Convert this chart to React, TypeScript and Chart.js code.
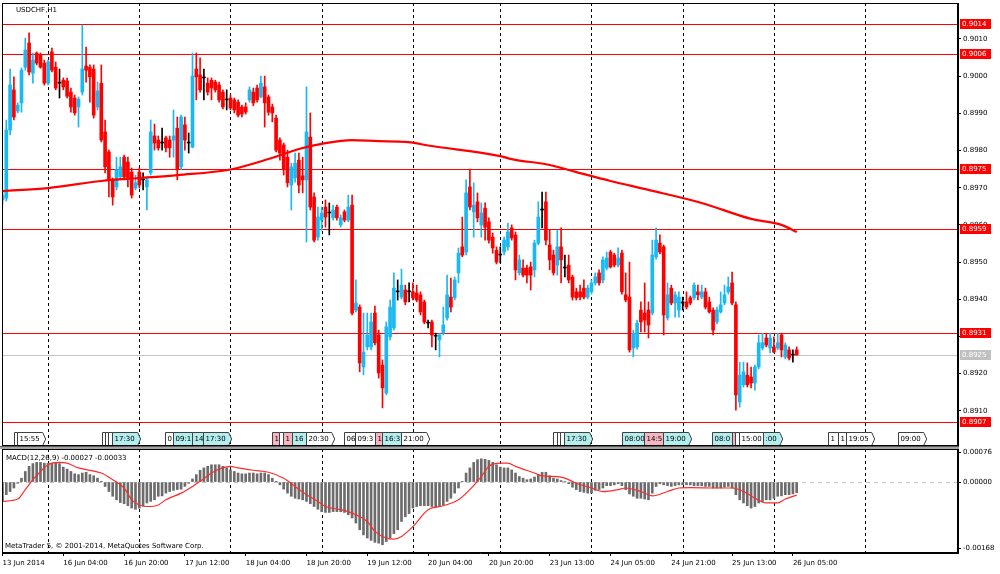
import { useEffect, useRef } from "react";
import { Chart, registerables } from "chart.js";

Chart.register(...registerables);

/* USDCHF H1 — candles, MA, níveis horizontais, eventos e MACD(12,26,9).
   Valores lidos do screenshot original (estimados onde não dava para ler). */

const opens = [
  0.89667, 0.89672, 0.89855, 0.89963, 0.89906, 0.89928, 0.90024, 0.90089, 0.90008, 0.90062,
  0.90057, 0.90035, 0.89981, 0.90065, 0.90024, 0.89981, 0.89989, 0.89987, 0.89957, 0.89941,
  0.89917, 0.89957, 0.90027, 0.90024, 0.90019, 0.89917, 0.89981, 0.8985, 0.89796, 0.89721,
  0.89702, 0.89729, 0.89782, 0.89769, 0.89742, 0.89699, 0.89742, 0.89721, 0.89702, 0.8974,
  0.89839, 0.89828, 0.8982, 0.89834, 0.89828, 0.89828, 0.8986, 0.89756, 0.89869, 0.8982,
  0.89809, 0.90019, 0.90003, 0.89995, 0.89981, 0.89989, 0.89984, 0.89976, 0.89957, 0.89936,
  0.89941, 0.89936, 0.8993, 0.89917, 0.89917, 0.89936, 0.89957, 0.89968, 0.89944, 0.89971,
  0.89944, 0.89917, 0.89887, 0.89828, 0.89815, 0.89782, 0.89707, 0.89726, 0.89774, 0.89732,
  0.89721, 0.89836, 0.89675, 0.89567, 0.89613, 0.89648, 0.89632, 0.89619, 0.89648, 0.896,
  0.89635, 0.89613, 0.89653, 0.89371, 0.89379, 0.89218, 0.89272, 0.89272, 0.89363, 0.89304,
  0.89223, 0.89148, 0.89299, 0.89323, 0.8942, 0.89406, 0.89425, 0.8942, 0.8942, 0.89417,
  0.89412, 0.89393, 0.89336, 0.89339, 0.89301, 0.89291, 0.89309, 0.8935, 0.89406, 0.89404,
  0.89471, 0.89541, 0.89527, 0.89702, 0.89635, 0.89662, 0.896, 0.89645, 0.89608, 0.89567,
  0.89532, 0.89519, 0.89527, 0.89541, 0.89592, 0.89573, 0.89471, 0.89484, 0.89484, 0.89487,
  0.89479, 0.89551, 0.8964, 0.89662, 0.89546, 0.89519, 0.89492, 0.89541, 0.89484, 0.89492,
  0.8946, 0.8942, 0.8942, 0.8943, 0.89406, 0.8942, 0.89444, 0.89471, 0.89452, 0.89484,
  0.89527, 0.89519, 0.89492, 0.89524, 0.89412, 0.89406, 0.89269, 0.89272, 0.89371, 0.89363,
  0.89371, 0.89363, 0.89514, 0.89551, 0.89541, 0.8935, 0.8943, 0.8939, 0.89371, 0.8939,
  0.89393, 0.89404, 0.89404, 0.8942, 0.89406, 0.8942, 0.89393, 0.89371, 0.89339, 0.89366,
  0.8939, 0.8942, 0.89444, 0.89385, 0.89124, 0.8917, 0.89196, 0.89191, 0.89175, 0.89218,
  0.89269, 0.89296, 0.89269, 0.89272, 0.89269, 0.89304, 0.89245, 0.89264, 0.8925, 0.89264,
];

const highs = [
  0.89686, 0.89882, 0.90019, 0.89998, 0.89928, 0.90022, 0.90102, 0.90116, 0.90062, 0.90065,
  0.90062, 0.90043, 0.90043, 0.90075, 0.90038, 0.90019, 0.89995, 0.89995, 0.89968, 0.89949,
  0.89944, 0.90137, 0.90078, 0.9003, 0.9003, 0.89984, 0.9003, 0.89882, 0.89801, 0.89726,
  0.89782, 0.89782, 0.89788, 0.89782, 0.89753, 0.89734, 0.89753, 0.8974, 0.89729, 0.89882,
  0.89871, 0.89839, 0.8986, 0.89839, 0.89839, 0.89909, 0.8989, 0.89895, 0.8989, 0.89847,
  0.90062, 0.90062, 0.90049, 0.90019, 0.89995, 0.89995, 0.89989, 0.89984, 0.89963, 0.89963,
  0.89949, 0.89941, 0.89936, 0.89922, 0.89928, 0.89971, 0.89968, 0.89976, 0.9, 0.9,
  0.89949, 0.89925, 0.89895, 0.89834, 0.8982, 0.89801, 0.89766, 0.89793, 0.89793, 0.89782,
  0.89971, 0.89901, 0.89686, 0.89648, 0.89648, 0.89667, 0.89659, 0.89653, 0.89653, 0.89627,
  0.8964, 0.8968, 0.8968, 0.89452, 0.89385, 0.89363, 0.89363, 0.89363, 0.89382, 0.89317,
  0.89237, 0.89339, 0.89398, 0.89471, 0.89452, 0.89481, 0.89438, 0.89444, 0.89444, 0.89438,
  0.8942, 0.89398, 0.89344, 0.89344, 0.89309, 0.89309, 0.89379, 0.89465, 0.89457, 0.8946,
  0.89538, 0.89621, 0.89721, 0.8975, 0.89713, 0.89686, 0.89659, 0.89659, 0.89619, 0.89578,
  0.89541, 0.89541, 0.89567, 0.89605, 0.896, 0.89581, 0.89519, 0.89506, 0.89492, 0.895,
  0.89559, 0.89662, 0.89688, 0.89688, 0.89586, 0.89532, 0.89586, 0.89592, 0.89519, 0.89519,
  0.89465, 0.8943, 0.89438, 0.89452, 0.89438, 0.89452, 0.89471, 0.89479, 0.89514, 0.89527,
  0.89532, 0.89524, 0.89538, 0.89532, 0.89471, 0.895, 0.89317, 0.89344, 0.89393, 0.89444,
  0.89393, 0.89559, 0.89592, 0.89573, 0.89546, 0.89444, 0.89438, 0.8942, 0.8942, 0.89406,
  0.8942, 0.89409, 0.89444, 0.89438, 0.89438, 0.8943, 0.89406, 0.89377, 0.89379, 0.8942,
  0.89438, 0.8946, 0.89473, 0.89393, 0.89231, 0.89231, 0.89229, 0.89218, 0.89223, 0.89304,
  0.89309, 0.89309, 0.89309, 0.89299, 0.89309, 0.89309, 0.89283, 0.89272, 0.89264, 0.89272,
];

const lows = [
  0.89653, 0.89664, 0.89842, 0.89882, 0.89901, 0.89903, 0.90016, 0.90003, 0.89981, 0.9003,
  0.90021, 0.89976, 0.89976, 0.90011, 0.89963, 0.89941, 0.89963, 0.89941, 0.89903, 0.89895,
  0.89863, 0.89949, 0.89984, 0.8993, 0.89887, 0.89909, 0.89823, 0.8974, 0.89675, 0.89653,
  0.89694, 0.89721, 0.89721, 0.89702, 0.89672, 0.89694, 0.89699, 0.89694, 0.8964, 0.89734,
  0.89801, 0.89801, 0.89801, 0.89796, 0.89782, 0.89782, 0.89721, 0.89748, 0.89801, 0.89793,
  0.89807, 0.89936, 0.89957, 0.89936, 0.89949, 0.89936, 0.89957, 0.8993, 0.89912, 0.89909,
  0.89909, 0.89901, 0.8989, 0.8989, 0.89898, 0.8993, 0.8992, 0.8993, 0.89941, 0.89863,
  0.89895, 0.89877, 0.89796, 0.89774, 0.89734, 0.89702, 0.8964, 0.89715, 0.89686, 0.89686,
  0.89554, 0.8964, 0.89554, 0.89559, 0.89586, 0.89594, 0.89573, 0.89613, 0.89613, 0.89594,
  0.89608, 0.89608, 0.89358, 0.89366, 0.89205, 0.89197, 0.89264, 0.89264, 0.89277, 0.89188,
  0.89108, 0.89143, 0.89291, 0.89317, 0.89398, 0.89401, 0.89385, 0.89393, 0.89398, 0.89393,
  0.89358, 0.89334, 0.89323, 0.89272, 0.89264, 0.89245, 0.89304, 0.89344, 0.89366, 0.89398,
  0.89444, 0.89514, 0.89519, 0.8964, 0.89567, 0.89608, 0.89567, 0.89559, 0.89551, 0.89524,
  0.89495, 0.89498, 0.89519, 0.89532, 0.89559, 0.89452, 0.89465, 0.8946, 0.89444, 0.89425,
  0.8946, 0.89546, 0.89592, 0.89546, 0.89479, 0.89465, 0.89465, 0.89444, 0.8946, 0.89444,
  0.89398, 0.89398, 0.89398, 0.89401, 0.89401, 0.89414, 0.89438, 0.89438, 0.89444, 0.89479,
  0.89484, 0.89487, 0.89487, 0.89414, 0.89393, 0.89258, 0.89245, 0.89266, 0.89312, 0.89312,
  0.89296, 0.89358, 0.89508, 0.89522, 0.89304, 0.89344, 0.89385, 0.89352, 0.89352, 0.89371,
  0.89374, 0.89385, 0.89398, 0.89398, 0.89401, 0.89374, 0.89363, 0.89304, 0.89334, 0.89363,
  0.89385, 0.89414, 0.89385, 0.89102, 0.8911, 0.89164, 0.89164, 0.89162, 0.89156, 0.89213,
  0.89264, 0.89272, 0.89256, 0.89256, 0.89264, 0.89245, 0.8924, 0.89237, 0.89231, 0.8925,
];

const closes = [
  0.8968, 0.89855, 0.89976, 0.8989, 0.89922, 0.90016, 0.9007, 0.90011, 0.90043, 0.90035,
  0.90024, 0.89981, 0.90038, 0.90016, 0.89968, 0.89981, 0.89971, 0.89946, 0.89917, 0.89901,
  0.89938, 0.90019, 0.90016, 0.89998, 0.89895, 0.8996, 0.89828, 0.89756, 0.89721, 0.89675,
  0.89748, 0.89756, 0.89729, 0.89726, 0.8968, 0.89713, 0.89707, 0.89721, 0.89721, 0.8985,
  0.8982, 0.89807, 0.8982, 0.89807, 0.89807, 0.89839, 0.89748, 0.8989, 0.89828, 0.8982,
  0.9, 0.89998, 0.89963, 0.89995, 0.89957, 0.89968, 0.89963, 0.89936, 0.89917, 0.89936,
  0.89914, 0.89909, 0.89895, 0.89898, 0.89903, 0.89963, 0.89928, 0.89936, 0.89981, 0.89928,
  0.89903, 0.89901, 0.89801, 0.89793, 0.89748, 0.89713, 0.89756, 0.89766, 0.89707, 0.89721,
  0.8985, 0.89648, 0.89559, 0.89621, 0.89632, 0.89621, 0.89632, 0.8964, 0.89619, 0.89619,
  0.89613, 0.89648, 0.89363, 0.8939, 0.89229, 0.89258, 0.89304, 0.89339, 0.89283, 0.89202,
  0.89162, 0.89326, 0.89379, 0.8943, 0.8942, 0.89438, 0.89393, 0.8942, 0.89404, 0.89398,
  0.89366, 0.89339, 0.89336, 0.89304, 0.89301, 0.89304, 0.89331, 0.89412, 0.89379, 0.89452,
  0.89524, 0.89519, 0.89686, 0.89648, 0.89653, 0.89619, 0.89632, 0.89594, 0.89559, 0.89538,
  0.895, 0.89519, 0.89559, 0.89581, 0.89565, 0.89479, 0.89506, 0.89465, 0.89465, 0.89465,
  0.89551, 0.89621, 0.8964, 0.89559, 0.89506, 0.89471, 0.89541, 0.89506, 0.89484, 0.89452,
  0.89406, 0.89404, 0.89406, 0.89406, 0.8943, 0.89444, 0.8946, 0.89444, 0.89506, 0.89511,
  0.89487, 0.89492, 0.89511, 0.8942, 0.89398, 0.89264, 0.89309, 0.89336, 0.89339, 0.89344,
  0.89331, 0.89519, 0.89559, 0.89527, 0.89358, 0.89412, 0.8939, 0.89412, 0.89406, 0.8939,
  0.89379, 0.8939, 0.89438, 0.89412, 0.8942, 0.89379, 0.89366, 0.89317, 0.89371, 0.89385,
  0.89412, 0.89433, 0.8939, 0.89143, 0.89196, 0.89205, 0.8917, 0.89175, 0.89218, 0.89283,
  0.89283, 0.89277, 0.89296, 0.89258, 0.89283, 0.89264, 0.89277, 0.89242, 0.8925, 0.8925,
];

// média móvel (linha vermelha grossa) — amostras lidas a cada poucos candles
const maBars = [0, 12, 26, 36, 46, 60, 70, 78, 85, 92, 99, 106, 113, 131, 134, 144, 151, 160, 170, 184, 197, 205, 209];
const maValues = [
  0.89691, 0.89699, 0.89718, 0.89726, 0.89734, 0.89749, 0.89777, 0.89804, 0.8982, 0.89828, 0.89825, 0.89823,
  0.89812, 0.89785, 0.89777, 0.89761, 0.89742, 0.89718, 0.89694, 0.89659, 0.89616, 0.896, 0.89581,
];

// MACD(12,26,9): histograma (linha principal) por candle
const macdHist = [
  -0.00049, -0.00032, -0.00024, -0.00015, -0.00003, 0.0001, 0.00027, 0.0004, 0.00047, 0.0005,
  0.0005, 0.00048, 0.00048, 0.00048, 0.0005, 0.00047, 0.00038, 0.00033, 0.00027, 0.00021,
  0.00019, 0.00023, 0.00025, 0.00019, 0.00016, 0.0001, 0.00002, -0.00011, -0.00024, -0.00036,
  -0.00045, -0.00052, -0.00055, -0.0006, -0.00066, -0.00069, -0.00066, -0.0006, -0.00053, -0.00049,
  -0.00045, -0.00036, -0.00035, -0.00028, -0.00024, -0.00021, -0.00019, -0.00018, -0.00011, -0.00003,
  0.00008, 0.00019, 0.0003, 0.00036, 0.0004, 0.00044, 0.00044, 0.00044, 0.0004, 0.00036,
  0.00031, 0.00027, 0.00023, 0.00021, 0.00021, 0.00023, 0.00023, 0.00021, 0.00023, 0.00023,
  0.00019, 0.0001, 0.00002, -0.00007, -0.00018, -0.00028, -0.00036, -0.00041, -0.00043, -0.00045,
  -0.00049, -0.00055, -0.00062, -0.00069, -0.00075, -0.00077, -0.00077, -0.00075, -0.00075, -0.00075,
  -0.00077, -0.00083, -0.00091, -0.00104, -0.00121, -0.00134, -0.00142, -0.00148, -0.00153, -0.00155,
  -0.00159, -0.00151, -0.00142, -0.00131, -0.00121, -0.001, -0.00088, -0.0008, -0.00066, -0.00062,
  -0.0006, -0.0006, -0.0006, -0.00062, -0.00064, -0.00062, -0.00058, -0.00049, -0.00041, -0.00028,
  -0.00015, 0.00002, 0.00023, 0.00036, 0.0005, 0.00057, 0.00059, 0.00058, 0.00055, 0.0005,
  0.00044, 0.00038, 0.00036, 0.00036, 0.00031, 0.00023, 0.00014, 0.0001, 0.00006, 0.00008,
  0.00013, 0.00019, 0.00025, 0.00025, 0.00016, 0.0001, 0.00008, 0.00004, 0.00001, -0.00004,
  -0.00013, -0.00019, -0.00024, -0.00026, -0.00028, -0.00028, -0.00021, -0.00019, -0.00015, -0.00009,
  -0.00009, -0.00007, -0.00004, -0.00009, -0.00019, -0.0003, -0.00036, -0.00041, -0.00041, -0.00043,
  -0.00045, -0.00028, -0.00011, -0.00004, -0.00007, -0.00009, -0.00011, -0.00009, -0.00007, -0.00007,
  -0.00007, -0.00007, -0.00009, -0.00009, -0.00009, -0.00011, -0.00011, -0.00015, -0.00015, -0.00015,
  -0.00013, -0.00011, -0.00015, -0.00032, -0.00045, -0.00053, -0.0006, -0.00066, -0.00062, -0.00053,
  -0.00049, -0.00045, -0.00045, -0.00041, -0.00036, -0.00035, -0.00032, -0.00032, -0.0003, -0.00027,
];

// linha de sinal (vermelha fina) — amostras
const signalBars = [
  0, 4, 6, 8, 10, 12, 15, 17, 20, 26, 29, 32, 34, 36, 38, 41, 43, 47, 50, 52, 55, 57, 60, 62, 66, 70,
  74, 77, 80, 83, 85, 89, 91, 93, 96, 98, 101, 103, 105, 108, 112, 116, 120, 123, 126, 128, 131, 133,
  135, 140, 142, 146, 148, 151, 155, 158, 162, 164, 168, 171, 175, 178, 181, 188, 192, 195, 198, 201,
  204, 206, 209,
];
const signalValues = [
  -0.00049, -0.00043, -0.00019, 0.00006, 0.00027, 0.00044, 0.0005, 0.00048, 0.00036, 0.00023, 0.00006,
  -0.00015, -0.00045, -0.00058, -0.00062, -0.00058, -0.00045, -0.00028, -0.00011, 0.00002, 0.00023,
  0.00033, 0.0004, 0.00036, 0.0003, 0.00025, 0.0001, -0.00011, -0.00032, -0.00049, -0.00062, -0.0007,
  -0.00075, -0.00083, -0.001, -0.00125, -0.00142, -0.00145, -0.00138, -0.00113, -0.0007, -0.0006,
  -0.00045, -0.00019, 0.00014, 0.0004, 0.00048, 0.00048, 0.0004, 0.00023, 0.00016, 0.00014, 0.0001,
  -0.00003, -0.00015, -0.00024, -0.00019, -0.00015, -0.00024, -0.00035, -0.00024, -0.00015, -0.00014,
  -0.00015, -0.00015, -0.00024, -0.00041, -0.00053, -0.00053, -0.00043, -0.00033,
];

const priceTicks = [0.901, 0.9, 0.899, 0.898, 0.897, 0.896, 0.895, 0.894, 0.893, 0.892, 0.891];
const macdTicks = [0.00076, 0, -0.00168];
const timeTickBars = [0, 16, 32, 48, 64, 80, 96, 112, 128, 144, 160, 176, 192, 208];
const timeTickLabels = [
  "13 Jun 2014", "16 Jun 04:00", "16 Jun 20:00", "17 Jun 12:00", "18 Jun 04:00", "18 Jun 20:00",
  "19 Jun 12:00", "20 Jun 04:00", "20 Jun 20:00", "23 Jun 13:00", "24 Jun 05:00", "24 Jun 21:00",
  "25 Jun 13:00", "26 Jun 05:00",
];
const daySeparators = [12, 36, 60, 84, 108, 131, 155, 179, 203, 227];
const levelLines = [0.9014, 0.9006, 0.8975, 0.8959, 0.8931, 0.8907];
const bidLevel = 0.8925;

// eventos do calendário econômico (faixa inferior da janela principal)
const eventBars = [
  3.03, 3.82, 26.1, 27.0, 27.8, 28.7, 42.8, 44.8, 49.8, 52.7, 70.9, 72.8, 73.8, 76.2, 79.9, 89.9, 92.8,
  98.0, 99.9, 104.9, 144.9, 145.8, 146.7, 147.8, 163.0, 168.8, 173.8, 186.7, 192.0, 192.8, 193.8, 200.1,
  217.2, 219.9, 222.0, 235.7,
];
const eventTexts = [
  "", "15:55", "", "", "", "17:30", "0", "09:1", "14", "17:30", "1", "", "1", "16", "20:30", "06", "09:3",
  "1", "16:3", "21:00", "", "", "", "17:30", "08:00", "14:5", "19:00", "08:0", "", "", "15:00", ":00",
  "1", "1", "19:05", "09:00",
];
const eventKinds = [
  "w", "w", "w", "w", "w", "c", "w", "c", "c", "c", "p", "w", "p", "c", "w", "w", "w",
  "p", "c", "w", "w", "w", "w", "c", "c", "p", "c", "c", "p", "w", "w", "c",
  "w", "w", "w", "w",
];

const FONT = '"DejaVu Sans", sans-serif';
const BULL = "#19b9f3";
const BEAR = "#ff0000";
const DOJI = "#000000";
const EVENT_FILL: Record<string, string> = { w: "#ffffff", c: "#b2eeee", p: "#f5b5c1" };
const X_MIN = -0.13;
const X_MAX = 251.45;

function candleColor(i: number) {
  if (closes[i] > opens[i]) return BULL;
  if (closes[i] < opens[i]) return BEAR;
  return DOJI;
}

function hline(ctx: CanvasRenderingContext2D, a: any, y: number) {
  const yy = Math.round(y) + 0.5;
  ctx.beginPath();
  ctx.moveTo(a.left, yy);
  ctx.lineTo(a.right, yy);
  ctx.stroke();
}

function drawSeparators(chart: any) {
  const { ctx, chartArea: a, scales } = chart;
  ctx.save();
  ctx.strokeStyle = "#000";
  ctx.lineWidth = 1;
  ctx.setLineDash([3, 3]);
  daySeparators.forEach((b) => {
    const x = Math.round(scales.x.getPixelForValue(b)) + 0.5;
    if (x > a.right) return;
    ctx.beginPath();
    ctx.moveTo(x, a.top);
    ctx.lineTo(x, a.bottom);
    ctx.stroke();
  });
  ctx.restore();
}

function drawFrame(chart: any) {
  const { ctx, chartArea: a } = chart;
  ctx.save();
  ctx.strokeStyle = "#000";
  ctx.lineWidth = 1;
  ctx.strokeRect(a.left + 0.5, a.top + 0.5, a.right - a.left - 1, a.bottom - a.top - 1);
  ctx.restore();
}

function priceTag(ctx: CanvasRenderingContext2D, x: number, y: number, text: string, fill: string) {
  const yy = Math.round(y);
  ctx.fillStyle = fill;
  ctx.fillRect(x, yy - 5, 31, 10);
  ctx.fillStyle = "#fff";
  ctx.textAlign = "left";
  ctx.textBaseline = "middle";
  ctx.fillText(text, x + 2, yy + 0.5);
}

function drawEvents(chart: any) {
  const { ctx, chartArea: a, scales } = chart;
  const top = a.bottom - 13.5;
  const bottom = a.bottom - 0.5;
  const mid = (top + bottom) / 2;
  ctx.save();
  ctx.font = `7px ${FONT}`;
  ctx.lineWidth = 1;
  eventBars.forEach((b, k) => {
    const x = Math.round(scales.x.getPixelForValue(b)) + 0.5;
    const next = k + 1 < eventBars.length ? Math.round(scales.x.getPixelForValue(eventBars[k + 1])) + 0.5 : Infinity;
    const natural = ctx.measureText(eventTexts[k]).width + 5;
    const cut = x + natural > next;
    const w = cut ? next - x : natural;
    ctx.beginPath();
    ctx.moveTo(x, top);
    ctx.lineTo(x + w, top);
    if (!cut) ctx.lineTo(x + w + 3, mid);
    ctx.lineTo(x + w, bottom);
    ctx.lineTo(x, bottom);
    ctx.closePath();
    ctx.fillStyle = EVENT_FILL[eventKinds[k]];
    ctx.fill();
    ctx.strokeStyle = "#404040";
    ctx.stroke();
    if (eventTexts[k]) {
      ctx.save();
      ctx.beginPath();
      ctx.rect(x + 1, top, w - 1, bottom - top);
      ctx.clip();
      ctx.fillStyle = "#000";
      ctx.textAlign = "left";
      ctx.textBaseline = "middle";
      ctx.fillText(eventTexts[k], x + 2, mid + 0.5);
      ctx.restore();
    }
  });
  ctx.restore();
}

const mainOverlay = {
  id: "mainOverlay",
  beforeDatasetsDraw(chart: any) {
    const { ctx, chartArea: a, scales } = chart;
    drawSeparators(chart);
    ctx.save();
    ctx.lineWidth = 1;
    ctx.strokeStyle = "#c4c4c4";
    hline(ctx, a, scales.y.getPixelForValue(bidLevel));
    ctx.strokeStyle = "#ff0000";
    levelLines.forEach((v) => hline(ctx, a, scales.y.getPixelForValue(v)));
    ctx.restore();
  },
  afterDraw(chart: any) {
    const { ctx, chartArea: a, scales } = chart;
    drawEvents(chart);
    drawFrame(chart);
    ctx.save();
    ctx.font = `7px ${FONT}`;
    ctx.fillStyle = "#000";
    ctx.textAlign = "left";
    ctx.textBaseline = "middle";
    ctx.fillText("USDCHF,H1", a.left + 14, a.top + 7.5);
    const tagX = scales.y.left + 2;
    levelLines.forEach((v) => priceTag(ctx, tagX, scales.y.getPixelForValue(v), v.toFixed(4), "#ff0000"));
    priceTag(ctx, tagX, scales.y.getPixelForValue(bidLevel), bidLevel.toFixed(4), "#c0c0c0");
    ctx.restore();
  },
};

const macdOverlay = {
  id: "macdOverlay",
  beforeDraw(chart: any) {
    const { ctx, chartArea: a } = chart;
    ctx.save();
    ctx.fillStyle = "#a4a4a4";
    ctx.fillRect(0, 0, a.right + 1, a.top);
    ctx.fillStyle = "#5a5a5a";
    ctx.fillRect(0, 0, a.right + 1, 1);
    ctx.restore();
  },
  beforeDatasetsDraw(chart: any) {
    const { ctx, chartArea: a, scales } = chart;
    ctx.save();
    ctx.strokeStyle = "#c0c0c0";
    ctx.lineWidth = 1;
    ctx.setLineDash([4, 4]);
    hline(ctx, a, scales.y.getPixelForValue(0));
    ctx.restore();
    drawSeparators(chart);
  },
  afterDraw(chart: any) {
    const { ctx, chartArea: a } = chart;
    drawFrame(chart);
    ctx.save();
    ctx.font = `7px ${FONT}`;
    ctx.fillStyle = "#000";
    ctx.textAlign = "left";
    ctx.textBaseline = "middle";
    ctx.fillText(
      `MACD(12,26,9) ${macdHist[macdHist.length - 1].toFixed(5)} ${signalValues[signalValues.length - 1].toFixed(5)}`,
      a.left + 4,
      a.top + 9.5,
    );
    ctx.fillText("MetaTrader 5, \u00a9 2001-2014, MetaQuotes Software Corp.", a.left + 3, a.bottom - 6.5);
    ctx.restore();
  },
};

const tickFont = { family: FONT, size: 7 };

// o Chart.js reserva meia altura de rótulo nas pontas do eixo; aqui o eixo
// precisa ir de borda a borda, como no MT5
function noEdgePadding(scale: any) {
  scale.paddingTop = 0;
  scale.paddingBottom = 0;
  scale.paddingLeft = 0;
  scale.paddingRight = 0;
}

function rightAxis(min: number, max: number, ticks: number[], digits: number) {
  return {
    type: "linear" as const,
    position: "right" as const,
    min,
    max,
    afterFit: (scale: any) => {
      scale.width = 42;
      noEdgePadding(scale);
    },
    afterBuildTicks: (scale: any) => {
      scale.ticks = ticks.map((v) => ({ value: v }));
    },
    grid: { drawOnChartArea: false, drawTicks: true, tickLength: 3, color: "#000" },
    border: { display: true, color: "#000" },
    ticks: {
      color: "#000",
      font: tickFont,
      padding: 2,
      callback: (v: any) => Number(v).toFixed(digits),
    },
  };
}

function mainConfig(): any {
  const idx = opens.map((_, i) => i);
  return {
    type: "bar",
    data: {
      datasets: [
        {
          type: "line",
          data: maBars.map((b, k) => ({ x: b, y: maValues[k] })),
          borderColor: "#ff0000",
          borderWidth: 2.2,
          pointRadius: 0,
          cubicInterpolationMode: "monotone",
          order: 1,
        },
        {
          data: idx.map((i) => ({ x: i, y: [opens[i], closes[i]] })),
          backgroundColor: (c: any) => candleColor(c.dataIndex),
          barThickness: 3,
          minBarLength: 1,
          grouped: false,
          borderWidth: 0,
          order: 2,
        },
        {
          data: idx.map((i) => ({ x: i, y: [lows[i], highs[i]] })),
          backgroundColor: (c: any) => candleColor(c.dataIndex),
          barThickness: 1,
          grouped: false,
          borderWidth: 0,
          order: 3,
        },
      ],
    },
    options: {
      responsive: false,
      animation: false,
      devicePixelRatio: 1,
      events: [],
      layout: { padding: { left: 2, top: 3, right: 0, bottom: 0 }, autoPadding: false },
      plugins: { legend: { display: false }, tooltip: { enabled: false } },
      scales: {
        x: { type: "linear", min: X_MIN, max: X_MAX, offset: false, display: false, afterFit: noEdgePadding },
        y: rightAxis(0.890056, 0.901965, priceTicks, 4),
      },
    },
    plugins: [mainOverlay],
  };
}

function macdConfig(): any {
  return {
    type: "bar",
    data: {
      datasets: [
        {
          type: "line",
          data: signalBars.map((b, k) => ({ x: b, y: signalValues[k] })),
          borderColor: "#ff2a2a",
          borderWidth: 1.2,
          pointRadius: 0,
          cubicInterpolationMode: "monotone",
          order: 1,
        },
        {
          data: macdHist.map((v, i) => ({ x: i, y: v })),
          backgroundColor: "#6c6c6c",
          barThickness: 2,
          grouped: false,
          borderWidth: 0,
          order: 2,
        },
      ],
    },
    options: {
      responsive: false,
      animation: false,
      devicePixelRatio: 1,
      events: [],
      layout: { padding: { left: 2, top: 3, right: 0, bottom: 0 }, autoPadding: false },
      plugins: { legend: { display: false }, tooltip: { enabled: false } },
      scales: {
        x: {
          type: "linear",
          min: X_MIN,
          max: X_MAX,
          offset: false,
          position: "bottom",
          afterFit: (scale: any) => {
            scale.height = 21;
            noEdgePadding(scale);
          },
          afterBuildTicks: (scale: any) => {
            scale.ticks = timeTickBars.map((v) => ({ value: v }));
          },
          grid: { drawOnChartArea: false, drawTicks: true, tickLength: 3, color: "#000", offset: false },
          border: { display: true, color: "#000" },
          ticks: {
            color: "#000",
            font: tickFont,
            padding: 3,
            align: "start",
            autoSkip: false,
            maxRotation: 0,
            callback: (v: any) => timeTickLabels[timeTickBars.indexOf(Number(v))] ?? "",
          },
        },
        y: rightAxis(-0.0018, 0.00084, macdTicks, 5),
      },
    },
    plugins: [macdOverlay],
  };
}

export default function App() {
  const mainRef = useRef<HTMLCanvasElement>(null);
  const macdRef = useRef<HTMLCanvasElement>(null);

  useEffect(() => {
    if (!mainRef.current || !macdRef.current) return;
    const main = new Chart(mainRef.current, mainConfig());
    const macd = new Chart(macdRef.current, macdConfig());
    return () => {
      main.destroy();
      macd.destroy();
    };
  }, []);

  return (
    <div style={{ position: "absolute", left: 0, top: 0, width: 1000, height: 574, background: "#fff" }}>
      <canvas ref={mainRef} width={1000} height={446} style={{ position: "absolute", left: 0, top: 0 }} />
      <canvas ref={macdRef} width={1000} height={128} style={{ position: "absolute", left: 0, top: 446 }} />
    </div>
  );
}
